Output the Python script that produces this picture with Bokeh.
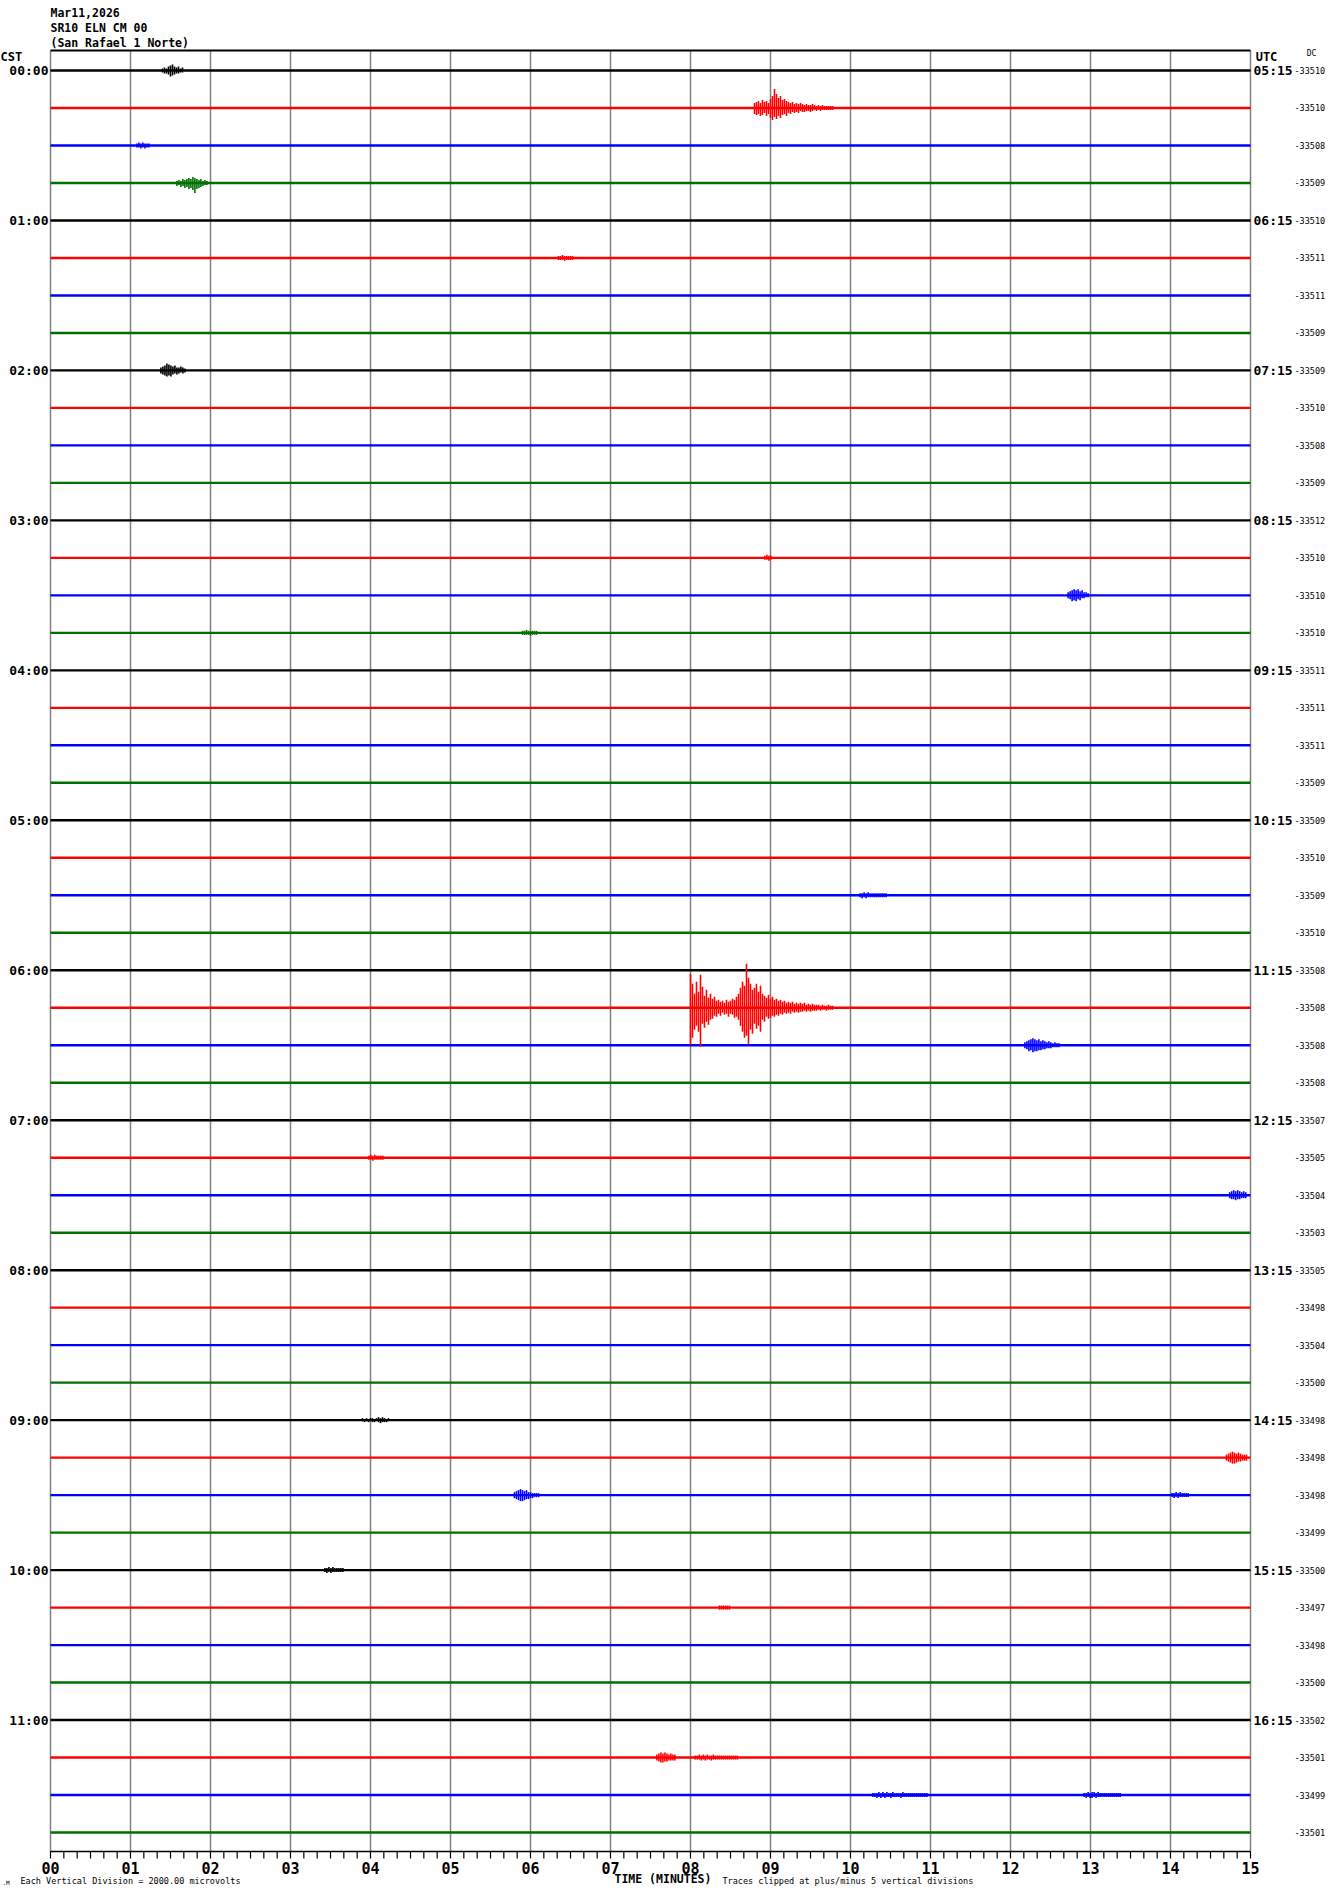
from bokeh.plotting import figure
from bokeh.models import Range1d
from bokeh.core.properties import value
from bokeh.embed import file_html
from bokeh.resources import INLINE

# ---------------- data ----------------
header_lines = ["Mar11,2026", "SR10 ELN CM 00", "(San Rafael 1 Norte)"]
cst_labels = ["00:00", "01:00", "02:00", "03:00", "04:00", "05:00",
              "06:00", "07:00", "08:00", "09:00", "10:00", "11:00"]
utc_labels = ["05:15", "06:15", "07:15", "08:15", "09:15", "10:15",
              "11:15", "12:15", "13:15", "14:15", "15:15", "16:15"]
dc_values = [-33510, -33510, -33508, -33509, -33510, -33511, -33511, -33509,
             -33509, -33510, -33508, -33509, -33512, -33510, -33510, -33510,
             -33511, -33511, -33511, -33509, -33509, -33510, -33509, -33510,
             -33508, -33508, -33508, -33508, -33507, -33505, -33504, -33503,
             -33505, -33498, -33504, -33500, -33498, -33498, -33498, -33499,
             -33500, -33497, -33498, -33500, -33502, -33501, -33499, -33501]
trace_colors = ["#000000", "#ff0000", "#0000ff", "#007000"]
minute_ticks = list(range(16))
minute_labels = ["%02d" % m for m in minute_ticks]
minor_ticks = [k / 6.0 for k in range(91)]
n_rows = 48
event_dt = 0.025  # minutes between amplitude samples
footer_mark = ".M"
footer_left = "Each Vertical Division = 2000.00 microvolts"
footer_axis = "TIME (MINUTES)"
footer_right = "Traces clipped at plus/minus 5 vertical divisions"

# events: (row, start minute, up amplitudes px, down amplitudes px)
ev_row0 = (0, 1.40, [2, 3, 2, 4, 5, 6, 4, 3, 4, 2, 3], [2, 3, 3, 4, 6, 5, 4, 3, 3, 2, 2])
ev_row1 = (1, 8.80,
           [5, 6, 7, 5, 8, 6, 7, 5, 9, 12, 19, 14, 10, 12, 8, 9, 7, 6, 5, 6, 4, 5, 4, 5, 4, 3, 4, 3, 3, 4, 3, 2, 3, 2, 3, 2, 2, 2, 2, 2],
           [6, 7, 6, 8, 7, 5, 8, 6, 10, 12, 9, 11, 8, 10, 7, 6, 8, 5, 6, 4, 5, 4, 5, 3, 4, 4, 3, 3, 4, 3, 2, 3, 2, 3, 2, 2, 2, 2, 2, 2])
ev_row2 = (2, 1.08, [2, 3, 2, 3, 2, 2, 2], [2, 2, 3, 2, 3, 2, 2])
ev_row3 = (3, 1.58,
           [2, 3, 2, 4, 3, 4, 5, 4, 6, 5, 4, 3, 4, 2, 3, 2],
           [3, 2, 4, 3, 5, 4, 6, 5, 7, 10, 6, 5, 4, 3, 2, 2])
ev_row5 = (5, 6.35, [2, 2, 3, 2, 2, 2, 2, 2], [2, 2, 2, 3, 2, 2, 2, 2])
ev_row8 = (8, 1.38, [3, 4, 5, 7, 6, 5, 4, 5, 3, 3, 4, 3, 2], [3, 4, 5, 6, 5, 6, 4, 3, 4, 3, 2, 3, 2])
ev_row13 = (13, 8.93, [2, 3, 2, 2], [2, 2, 3, 2])
ev_row14 = (14, 12.72, [3, 4, 5, 6, 5, 6, 4, 5, 3, 3, 2], [3, 4, 6, 5, 6, 4, 5, 3, 3, 2, 2])
ev_row15 = (15, 5.90, [2, 2, 3, 2, 2, 2, 2, 2], [2, 2, 2, 2, 3, 2, 2, 2])
ev_row22 = (22, 10.12, [2, 2, 3, 2, 3, 2, 2, 2, 2, 2, 2, 2, 2, 2], [2, 3, 2, 3, 2, 2, 2, 2, 2, 2, 2, 2, 2, 2])
ev_row25 = (25, 8.00,
            [34, 24, 14, 26, 16, 33, 21, 12, 18, 10, 14, 9, 11, 7, 8, 6, 7, 5, 8, 6,
             7, 9, 8, 11, 14, 20, 26, 22, 44, 30, 24, 18, 20, 24, 16, 22, 14, 12, 10, 13,
             9, 11, 8, 9, 7, 8, 6, 7, 5, 6, 5, 6, 4, 5, 4, 5, 4, 5, 3, 4,
             3, 4, 3, 3, 3, 2, 3, 2, 2, 3, 2, 2],
            [37, 30, 22, 18, 24, 39, 16, 20, 14, 17, 12, 11, 8, 9, 6, 8, 5, 7, 6, 9,
             6, 7, 10, 9, 12, 18, 24, 30, 28, 36, 22, 26, 16, 21, 18, 24, 12, 14, 9, 11,
             10, 8, 9, 7, 8, 6, 7, 5, 6, 5, 6, 4, 5, 4, 5, 4, 4, 3, 4, 3,
             4, 3, 3, 3, 2, 3, 2, 2, 3, 2, 2, 2])
ev_row26 = (26, 12.18, [3, 4, 5, 6, 7, 6, 5, 6, 4, 5, 4, 3, 4, 3, 2, 3, 2, 2], [3, 4, 6, 5, 7, 6, 6, 5, 5, 4, 4, 3, 3, 3, 2, 2, 2, 2])
ev_row29 = (29, 3.98, [2, 3, 2, 3, 2, 2, 2, 2], [2, 2, 3, 2, 2, 2, 2, 2])
ev_row30 = (30, 14.74, [3, 4, 5, 4, 5, 4, 3, 4, 3], [3, 4, 4, 5, 4, 4, 3, 3, 3])
ev_row36 = (36, 3.90, [2, 1, 2, 1, 2, 2, 1, 2, 3, 2, 3, 2, 1, 2],
            [1, 2, 1, 2, 1, 2, 2, 1, 2, 3, 2, 2, 2, 1])
ev_row37 = (37, 14.70, [3, 4, 5, 6, 5, 4, 5, 4, 3, 3, 3], [3, 4, 5, 6, 6, 5, 4, 4, 3, 3, 3])
ev_row38a = (38, 5.80, [3, 4, 5, 6, 5, 4, 5, 3, 3, 2, 2, 2, 2], [3, 4, 5, 6, 6, 5, 4, 4, 3, 3, 2, 2, 2])
ev_row38b = (38, 14.02, [2, 2, 3, 2, 3, 2, 2, 2, 2], [2, 3, 2, 3, 2, 2, 2, 2, 2])
ev_row40 = (40, 3.43, [2, 2, 3, 2, 3, 2, 2, 2, 2, 2], [2, 3, 2, 3, 2, 2, 2, 2, 2, 2])
ev_row41 = (41, 8.36, [2, 2, 2, 2, 2, 2], [2, 2, 2, 2, 2, 2])
ev_row45a = (45, 7.58, [3, 4, 5, 4, 5, 4, 3, 4, 3, 3], [3, 4, 5, 5, 4, 4, 3, 3, 3, 3])
ev_row45b = (45, 8.06, [2, 2, 3, 2, 3, 2, 3, 2, 2, 3, 2, 2, 2, 2, 2, 2, 2, 2, 2, 2, 2, 2],
             [2, 2, 2, 3, 2, 3, 2, 2, 3, 2, 2, 2, 2, 2, 2, 2, 2, 2, 2, 2, 2, 2])
ev_row46a = (46, 10.28, [2, 2, 2, 3, 2, 3, 2, 3, 2, 2, 3, 2, 2, 2, 2, 3, 2, 2, 2, 2, 2, 2, 2, 2, 2, 2, 2, 2],
             [2, 2, 3, 2, 3, 2, 3, 2, 2, 3, 2, 2, 2, 2, 3, 2, 2, 2, 2, 2, 2, 2, 2, 2, 2, 2, 2, 2])
ev_row46b = (46, 12.92, [2, 2, 3, 2, 3, 3, 2, 3, 2, 2, 2, 2, 2, 2, 2, 2, 2, 2, 2],
             [2, 3, 2, 3, 3, 2, 3, 2, 2, 2, 2, 2, 2, 2, 2, 2, 2, 2, 2])

events = [ev_row0, ev_row1, ev_row2, ev_row3, ev_row5, ev_row8, ev_row13, ev_row14,
          ev_row15, ev_row22, ev_row25, ev_row26, ev_row29, ev_row30, ev_row36,
          ev_row37, ev_row38a, ev_row38b, ev_row40, ev_row41, ev_row45a, ev_row45b,
          ev_row46a, ev_row46b]

# ---------------- layout (page pixels -> data) ----------------
W, H = 1330, 1892
LEFT_PX, TOP_PX = 50.0, 50.0
PX_PER_MIN = 80.0
ROW_PX = 37.49
FIRST_PX = 20.0
AXIS_PX = 1851.0
MONO = value("DejaVu Sans Mono")


def dx(page_x):
    return (page_x - LEFT_PX) / PX_PER_MIN


def dy(page_y):
    return -(page_y - TOP_PX)


def row_y(i):
    return -(FIRST_PX + i * ROW_PX)


p = figure(width=W, height=H,
           x_range=Range1d(dx(0), dx(W)), y_range=Range1d(dy(H), dy(0)),
           output_backend="svg", toolbar_location=None,
           x_axis_location=None, y_axis_location=None, min_border=0)
p.outline_line_color = None
p.xgrid.visible = False
p.ygrid.visible = False
p.background_fill_color = "white"
p.border_fill_color = "white"

y_top = dy(TOP_PX)
y_axis = dy(AXIS_PX)

# vertical minute grid lines
p.segment(x0=minute_ticks, x1=minute_ticks, y0=[y_top] * 16, y1=[y_axis] * 16,
          line_color="#808080", line_width=1.5)
# top border
p.segment(x0=[0], x1=[15], y0=[y_top], y1=[y_top], line_color="black", line_width=2)

# traces
xs, ys, cols = [], [], []
for i in range(n_rows):
    xs.append([0, 15])
    ys.append([row_y(i), row_y(i)])
    cols.append(trace_colors[i % 4])
p.multi_line(xs=xs, ys=ys, line_color=cols, line_width=2.4)

# events
for row, t0, ups, downs in events:
    base = row_y(row)
    tx = [t0 + k * event_dt for k in range(len(ups))]
    y0 = [base - d for d in downs]
    y1 = [base + u for u in ups]
    p.segment(x0=tx, y0=y0, x1=tx, y1=y1, line_color=trace_colors[row % 4], line_width=1.6)

# time axis
p.segment(x0=[0], x1=[15], y0=[y_axis], y1=[y_axis], line_color="black", line_width=1.5)
p.segment(x0=minor_ticks, x1=minor_ticks, y0=[y_axis] * len(minor_ticks),
          y1=[dy(AXIS_PX + 7)] * len(minor_ticks), line_color="black", line_width=1.2)
p.text(x=minute_ticks, y=[dy(1867)] * 16, text=minute_labels, text_font=MONO,
       text_font_style="bold", text_font_size=value("15px"), text_align="center",
       text_baseline="middle", text_color="black")


def put(x_px, y_px, txt, size, bold=False, align="left"):
    p.text(x=[dx(x_px)], y=[dy(y_px)], text=[txt], text_font=MONO,
           text_font_style="bold" if bold else "normal", text_font_size=value(size),
           text_align=align, text_baseline="middle", text_color="black")


# header
for k, txt in enumerate(header_lines):
    put(50, 12 + k * 15, txt, "11.5px", bold=True)

put(0, 56, "CST", "12px", bold=True)
put(1266, 56, "UTC", "12px", bold=True, align="center")
put(1311, 53, "DC", "8px", align="center")

hour_rows = [4 * h for h in range(12)]
hour_y = [row_y(r) for r in hour_rows]
p.text(x=[dx(48)] * 12, y=hour_y, text=cst_labels, text_font=MONO, text_font_style="bold",
       text_font_size=value("13px"), text_align="right", text_baseline="middle",
       text_color="black")
p.text(x=[dx(1253)] * 12, y=hour_y, text=utc_labels, text_font=MONO, text_font_style="bold",
       text_font_size=value("13px"), text_align="left", text_baseline="middle",
       text_color="black")
p.text(x=[dx(1294)] * n_rows, y=[row_y(i) for i in range(n_rows)],
       text=[str(v) for v in dc_values], text_font=MONO, text_font_size=value("8.5px"),
       text_align="left", text_baseline="middle", text_color="black")

# footer
put(2, 1882, footer_mark, "6px")
put(20, 1880, footer_left, "8.5px")
put(614, 1878, footer_axis, "11.5px", bold=True)
put(722, 1880, footer_right, "8.5px")

open("out.html", "w").write(file_html(p, INLINE))
